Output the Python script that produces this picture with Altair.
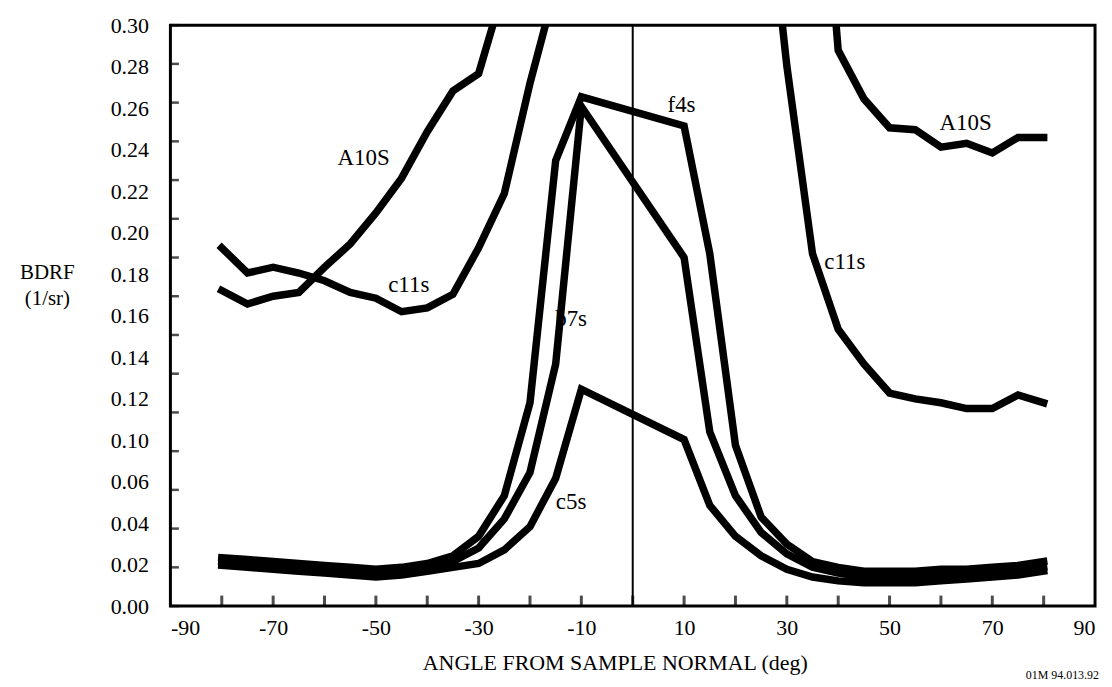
import json
import altair as alt
import pandas as pd

# ---------------- data ----------------
angles = [-80, -75, -70, -65, -60, -55, -50, -45, -40, -35, -30, -25, -20, -15, -10,
          10, 15, 20, 25, 30, 35, 40, 45, 50, 55, 60, 65, 70, 75, 80]

a10s = [0.163, 0.156, 0.160, 0.162, 0.175, 0.187, 0.203, 0.221, 0.245, 0.266, 0.275, 0.320, None, None, None,
        None, None, None, None, None, 0.450, 0.287, 0.262, 0.247, 0.246, 0.237, 0.239, 0.234, 0.242, 0.242]
c11s = [0.185, 0.172, 0.175, 0.172, 0.168, 0.162, 0.159, 0.152, 0.154, 0.161, 0.185, 0.213, 0.270, 0.320, None,
        None, None, None, 0.400, 0.279, 0.182, 0.143, 0.125, 0.110, 0.107, 0.105, 0.102, 0.102, 0.109, 0.105]
f4s = [0.025, 0.024, 0.023, 0.022, 0.021, 0.020, 0.019, 0.020, 0.022, 0.026, 0.036, 0.057, 0.105, 0.230, 0.263,
       0.248, 0.182, 0.083, 0.046, 0.032, 0.023, 0.020, 0.018, 0.018, 0.018, 0.019, 0.019, 0.020, 0.021, 0.023]
b7s = [0.023, 0.022, 0.021, 0.020, 0.019, 0.018, 0.017, 0.018, 0.020, 0.023, 0.030, 0.045, 0.069, 0.125, 0.258,
       0.180, 0.090, 0.057, 0.038, 0.027, 0.020, 0.017, 0.015, 0.015, 0.015, 0.016, 0.017, 0.018, 0.018, 0.020]
c5s = [0.021, 0.020, 0.019, 0.018, 0.017, 0.016, 0.015, 0.016, 0.018, 0.020, 0.022, 0.029, 0.041, 0.066, 0.112,
       0.086, 0.052, 0.036, 0.026, 0.019, 0.015, 0.013, 0.012, 0.012, 0.012, 0.013, 0.014, 0.015, 0.016, 0.018]

series = {"A10S": a10s, "c11s": c11s, "f4s": f4s, "b7s": b7s, "c5s": c5s}

# curve annotations (text, angle, BDRF)
label_text = ["A10S", "c11s", "A10S", "c11s", "f4s", "b7s", "c5s"]
label_x = [-52.4, -43.6, 64.8, 41.3, 9.5, -12.0, -12.0]
label_y = [0.2316, 0.1657, 0.2496, 0.1775, 0.259, 0.148, 0.0535]

x_domain = [-90, 90]
y_domain = [0.0, 0.30]
x_label_values = [-90, -70, -50, -30, -10, 10, 30, 50, 70, 90]
x_tick_values = [-80, -70, -60, -50, -40, -30, -20, -10, 0, 10, 20, 30, 40, 50, 60, 70, 80]
y_tick_values = [round(i * 0.02, 2) for i in range(16)]
y_label_text = ["0.00", "0.02", "0.04", "0.06", "0.10", "0.12", "0.14", "0.16",
                "0.18", "0.20", "0.22", "0.24", "0.26", "0.28", "0.30"]
ref_line_x = [0]

# ---------------- tables ----------------
rows = []
for name, vals in series.items():
    for a, v in zip(angles, vals):
        if v is not None:
            rows.append({"series": name, "angle": a, "bdrf": v})
df = pd.DataFrame(rows)

n_lab = len(y_label_text) - 1
y_label_pos = [y_domain[1] * i / n_lab for i in range(len(y_label_text))]
label_expr = f"{json.dumps(y_label_text)}[round(datum.value*{n_lab}/{y_domain[1]})]"

FONT = "Liberation Serif"

xs = alt.Scale(domain=x_domain, nice=False, zero=False)
ys = alt.Scale(domain=y_domain, nice=False, zero=False)

x_axis = alt.Axis(values=x_label_values, labelExpr="datum.value + ''", ticks=False, domain=False, grid=False,
                  labelFont=FONT, labelFontSize=22, labelColor="black", labelPadding=12,
                  title="ANGLE FROM SAMPLE NORMAL (deg)", titleFont=FONT, titleFontSize=22,
                  titleFontWeight="normal", titleColor="black", titlePadding=14,
                  titleX=446, titleAlign="center")
y_axis = alt.Axis(values=y_label_pos, labelExpr=label_expr, ticks=False, domain=False, grid=False,
                  labelFont=FONT, labelFontSize=22, labelColor="black", labelPadding=22,
                  title=["BDRF", "(1/sr)"], titleFont=FONT, titleFontSize=21, titleFontWeight="normal",
                  titleColor="black", titleAngle=0, titleAlign="center", titleBaseline="middle",
                  titleX=-124, titleY=248, titleLineHeight=26)

base_x = alt.X("angle:Q", scale=xs, axis=x_axis)
base_y = alt.Y("bdrf:Q", scale=ys, axis=y_axis)

text_df = pd.DataFrame({"t": label_text, "angle": label_x, "bdrf": label_y})
texts = alt.Chart(text_df).mark_text(font=FONT, fontSize=23, color="black").encode(
    x=base_x, y=base_y, text="t:N")

rule = alt.Chart(pd.DataFrame({"angle": ref_line_x})).mark_rule(color="black", strokeWidth=2).encode(
    x=alt.X("angle:Q", scale=xs, axis=x_axis))

lines = alt.Chart(df).mark_line(color="black", strokeWidth=7.5, clip=True,
                                strokeJoin="miter", strokeCap="square").encode(
    x=base_x, y=base_y, detail="series:N", order="angle:Q")

yticks = alt.Chart(pd.DataFrame({"bdrf": y_tick_values})).mark_tick(
    orient="horizontal", color="black", size=9, thickness=2.5, xOffset=4).encode(
    y=alt.Y("bdrf:Q", scale=ys, axis=y_axis), x=alt.datum(x_domain[0], scale=xs, axis=x_axis))

xticks = alt.Chart(pd.DataFrame({"angle": x_tick_values})).mark_tick(
    orient="vertical", color="black", size=11, thickness=3, yOffset=-5).encode(
    x=alt.X("angle:Q", scale=xs, axis=x_axis), y=alt.datum(y_domain[0], scale=ys, axis=y_axis))

chart = alt.layer(texts, rule, lines, yticks, xticks).properties(
    width=928, height=583,
    background="white",
    autosize=alt.AutoSizeParams(type="none"),
    padding={"left": 163, "top": 16, "right": 9, "bottom": 79},
    title=alt.TitleParams("01M 94.013.92", orient="bottom", anchor="end", font=FONT,
                          fontSize=12, fontWeight="normal", color="black", offset=-4, dx=4),
).configure_view(stroke="black", strokeWidth=3).configure_axis(
    labelFont=FONT, titleFont=FONT)

chart.save("out.html", embed_options={"renderer": "svg", "actions": False})
